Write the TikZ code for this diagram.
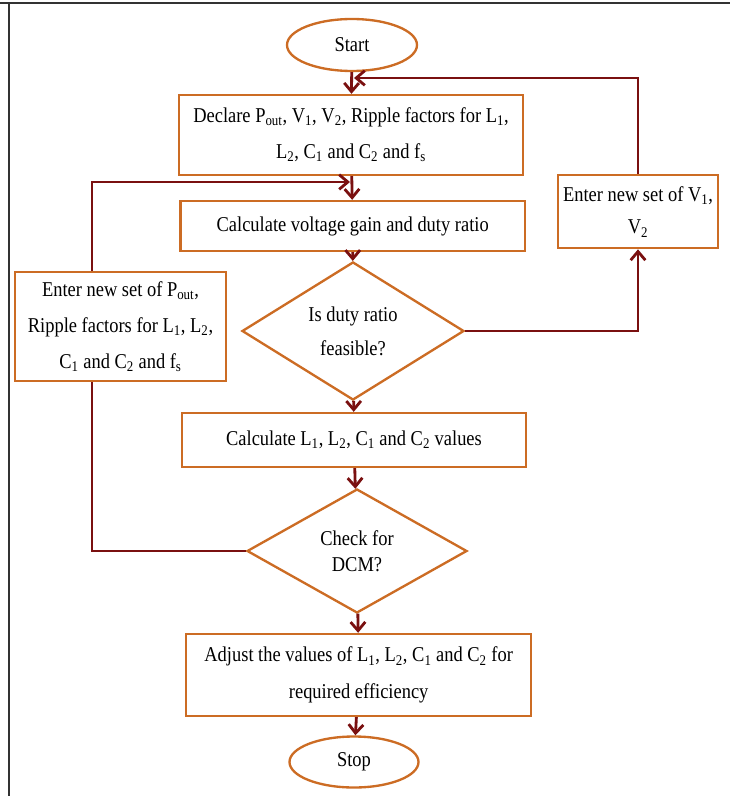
\documentclass[tikz,border=0pt]{standalone}
\usepackage{fontspec}
\setmainfont{Liberation Serif}[FakeStretch=0.875]
\usetikzlibrary{shapes.geometric,arrows.meta}
\definecolor{boxorange}{RGB}{204,108,36}
\definecolor{linkred}{RGB}{122,16,16}

\begin{document}
\begin{tikzpicture}[
  every node/.style={font=\fontsize{18}{31}\selectfont, align=center},
  process/.style={rectangle, draw=boxorange, line width=2pt, inner sep=0pt},
  terminal/.style={ellipse, draw=boxorange, line width=2pt, inner sep=0pt},
  decision/.style={diamond, draw=boxorange, line width=2pt, inner sep=0pt},
  wire/.style={draw=linkred, line width=2.4pt},
  link/.style={wire, -{Straight Barb[length=2.6mm,width=4.4mm]}}
]
\useasboundingbox (0,0) rectangle (21.9,-23.88);
\draw[black!80, line width=1.5pt] (0,-0.09) -- (21.9,-0.09);
\draw[black!80, line width=1.5pt] (0.27,-0.09) -- (0.27,-23.88);

\node(start) [terminal, minimum width=3.9cm, minimum height=1.56cm, xshift=10.56cm, yshift=-1.35cm] {Start};
\node(declare) [process, minimum width=10.32cm, minimum height=2.4cm, xshift=10.53cm, yshift=-4.05cm] {Declare P\textsubscript{out}, V\textsubscript{1}, V\textsubscript{2}, Ripple factors for L\textsubscript{1}, \\ L\textsubscript{2}, C\textsubscript{1} and C\textsubscript{2} and f\textsubscript{s}};
\node(gain) [process, minimum width=10.32cm, minimum height=1.5cm, xshift=10.58cm, yshift=-6.78cm] {Calculate voltage gain and duty ratio};
\node(feas) [decision, minimum width=6.66cm, minimum height=3.69cm, xshift=10.59cm, yshift=-9.93cm, font=\fontsize{18}{29}\selectfont] {Is duty ratio \\ feasible?};
\node(calcL) [process, minimum width=10.32cm, minimum height=1.62cm, xshift=10.62cm, yshift=-13.2cm] {Calculate L\textsubscript{1}, L\textsubscript{2}, C\textsubscript{1} and C\textsubscript{2} values};
\node(dcm) [decision, minimum width=6.6cm, minimum height=3.72cm, xshift=10.71cm, yshift=-16.53cm, font=\fontsize{18}{22}\selectfont] {Check for \\ DCM?};
\node(adjust) [process, minimum width=10.35cm, minimum height=2.46cm, xshift=10.76cm, yshift=-20.25cm] {Adjust the values of L\textsubscript{1}, L\textsubscript{2}, C\textsubscript{1} and C\textsubscript{2} for \\ required efficiency};
\node(stop) [terminal, minimum width=3.87cm, minimum height=1.53cm, xshift=10.62cm, yshift=-22.86cm] {Stop};
\node(newV) [process, minimum width=4.8cm, minimum height=2.19cm, xshift=19.14cm, yshift=-6.35cm, font=\fontsize{18}{28}\selectfont] {Enter new set of V\textsubscript{1}, \\ V\textsubscript{2}};
\node(newP) [process, minimum width=6.33cm, minimum height=3.27cm, xshift=3.615cm, yshift=-9.8cm] {Enter new set of P\textsubscript{out}, \\ Ripple factors for L\textsubscript{1}, L\textsubscript{2}, \\ C\textsubscript{1} and C\textsubscript{2} and f\textsubscript{s}};

\coordinate (topjoin) at (10.62,-2.34);
\coordinate (leftjoin) at (10.5,-5.46);

\draw[link] (start) -- (declare);
\draw[link] (declare) -- (gain);
\draw[link] (gain) -- (feas);
\draw[link] (feas) -- (calcL);
\draw[link] (calcL) -- (dcm);
\draw[link] (dcm) -- (adjust);
\draw[link] (adjust) -- (stop);

\draw[link] (feas.east) -| (newV.south);
\draw[link] (newV.north) |- (topjoin);
\draw[link] ([xshift=-0.855cm]newP.north) |- (leftjoin);
\draw[wire] (dcm.west) -| ([xshift=-0.855cm]newP.south);

\end{tikzpicture}
\end{document}
